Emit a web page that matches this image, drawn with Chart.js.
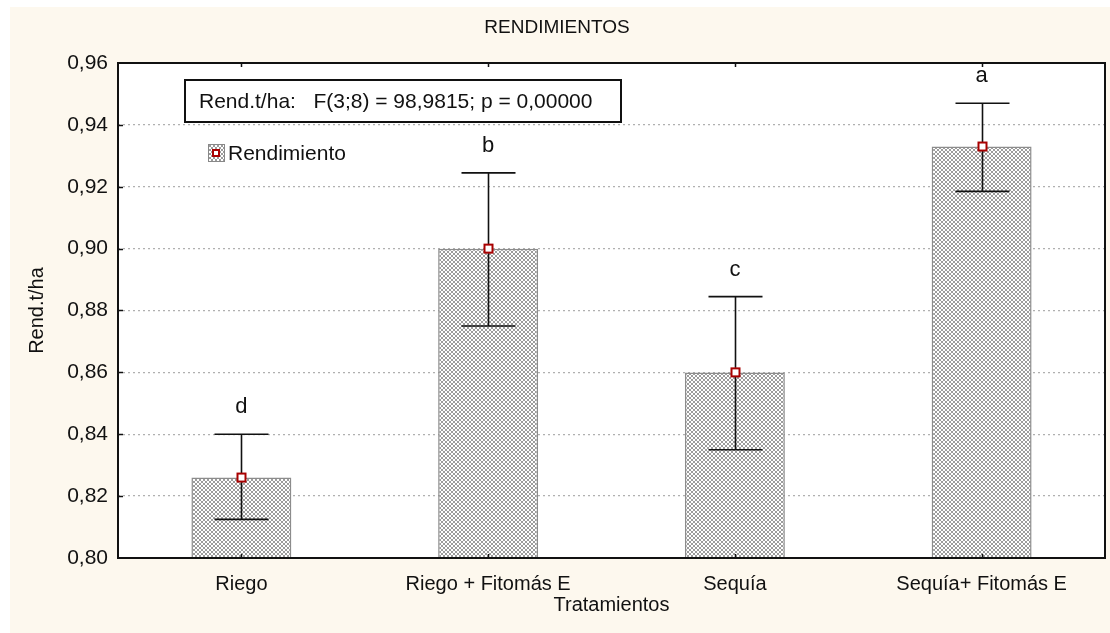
<!DOCTYPE html>
<html>
<head>
<meta charset="utf-8">
<script src="https://cdn.jsdelivr.net/npm/chart.js@4/dist/chart.umd.min.js"></script>
<style>
  html, body { margin: 0; padding: 0; background: #fff; }
  #wrap { width: 1110px; height: 633px; }
</style>
</head>
<body>
<div id="wrap"><canvas id="rendChart" width="1110" height="633"></canvas></div>
<script>
// datos
var categories = ["Riego", "Riego + Fitomás E", "Sequía", "Sequía+ Fitomás E"];
var means = [0.826, 0.900, 0.860, 0.933];
var upper = [0.840, 0.9245, 0.8845, 0.947];
var lower = [0.8125, 0.875, 0.835, 0.9185];
var letters = ["d", "b", "c", "a"];
var yMin = 0.80, yMax = 0.96, yStep = 0.02;

var FONT = "'Liberation Sans', Arial, sans-serif";
var CREAM = "#fdf8ee";

// trama cuadriculada de las barras (X de 4x4)
function makePattern() {
    var c = document.createElement("canvas");
    c.width = 4; c.height = 4;
    var p = c.getContext("2d");
    p.fillStyle = "#ffffff";
    p.fillRect(0, 0, 4, 4);
    p.fillStyle = "#9c9c9c";
    for (var i = 0; i < 4; i++) {
        p.fillRect(i, i, 1, 1);
        p.fillRect(3 - i, i, 1, 1);
    }
    return document.getElementById("rendChart").getContext("2d").createPattern(c, "repeat");
}
var barPattern = makePattern();

var backgroundPlugin = {
    id: "fondo",
    beforeDraw: function (chart) {
        var ctx = chart.ctx, a = chart.chartArea;
        ctx.save();
        ctx.fillStyle = "#fff";
        ctx.fillRect(0, 0, chart.width, chart.height);
        ctx.fillStyle = CREAM;
        ctx.fillRect(10, 7, chart.width - 10, chart.height - 7);
        ctx.fillStyle = "#fff";
        ctx.fillRect(a.left, a.top, a.right - a.left, a.bottom - a.top);
        // titulo
        ctx.fillStyle = "#111";
        ctx.font = "19px " + FONT;
        ctx.textAlign = "center";
        ctx.textBaseline = "middle";
        ctx.fillText("RENDIMIENTOS", 557, 28);
        ctx.restore();
    }
};

var extrasPlugin = {
    id: "extras",
    afterDatasetsDraw: function (chart) {
        var ctx = chart.ctx, a = chart.chartArea;
        var x = chart.scales.x, y = chart.scales.y;
        ctx.save();
        // barras de error
        ctx.strokeStyle = "#111";
        ctx.lineWidth = 1.6;
        for (var i = 0; i < categories.length; i++) {
            var cx = Math.round(x.getPixelForValue(i)) + 0.5;
            var yu = y.getPixelForValue(upper[i]);
            var yl = y.getPixelForValue(lower[i]);
            ctx.beginPath();
            ctx.moveTo(cx, yu); ctx.lineTo(cx, yl);
            ctx.moveTo(cx - 27, yu); ctx.lineTo(cx + 27, yu);
            ctx.moveTo(cx - 27, yl); ctx.lineTo(cx + 27, yl);
            ctx.stroke();
        }
        // marcadores de media
        for (var j = 0; j < categories.length; j++) {
            var mx = Math.round(x.getPixelForValue(j)) + 0.5;
            var my = y.getPixelForValue(means[j]);
            ctx.fillStyle = "#fff";
            ctx.fillRect(mx - 4.5, my - 4.5, 9, 9);
            ctx.strokeStyle = "#a80000";
            ctx.lineWidth = 2;
            ctx.strokeRect(mx - 4, my - 4, 8, 8);
        }
        // letras de significacion
        ctx.fillStyle = "#111";
        ctx.font = "22px " + FONT;
        ctx.textAlign = "center";
        ctx.textBaseline = "middle";
        for (var k = 0; k < categories.length; k++) {
            ctx.fillText(letters[k], x.getPixelForValue(k), y.getPixelForValue(upper[k]) - 27);
        }
        // marco y marcas
        ctx.strokeStyle = "#111";
        ctx.lineWidth = 2;
        ctx.strokeRect(a.left, a.top, a.right - a.left, a.bottom - a.top);
        ctx.lineWidth = 1.5;
        ctx.beginPath();
        for (var v = yMin + yStep; v < yMax - 0.001; v += yStep) {
            var ty = Math.round(y.getPixelForValue(v)) + 0.5;
            ctx.moveTo(a.left, ty); ctx.lineTo(a.left + 5, ty);
        }
        for (var m = 0; m < categories.length; m++) {
            var tx = Math.round(x.getPixelForValue(m)) + 0.5;
            ctx.moveTo(tx, a.bottom); ctx.lineTo(tx, a.bottom - 4);
            ctx.moveTo(tx, a.top); ctx.lineTo(tx, a.top + 4);
        }
        ctx.stroke();
        // recuadro estadistico
        ctx.fillStyle = "#fff";
        ctx.fillRect(185, 80, 436, 42);
        ctx.lineWidth = 2;
        ctx.strokeRect(185, 80, 436, 42);
        ctx.fillStyle = "#111";
        ctx.font = "21px " + FONT;
        ctx.textAlign = "left";
        ctx.fillText("Rend.t/ha:   F(3;8) = 98,9815; p = 0,00000", 199, 102);
        // leyenda
        ctx.fillStyle = barPattern;
        ctx.fillRect(208, 144, 17, 18);
        ctx.strokeStyle = "#888";
        ctx.lineWidth = 1;
        ctx.strokeRect(208.5, 144.5, 16, 17);
        ctx.fillStyle = "#fff";
        ctx.fillRect(212, 149, 8, 8);
        ctx.strokeStyle = "#a80000";
        ctx.lineWidth = 2;
        ctx.strokeRect(213, 150, 6, 6);
        ctx.fillStyle = "#111";
        ctx.fillText("Rendimiento", 228, 154);
        ctx.restore();
    }
};

var ctxR = document.getElementById("rendChart").getContext("2d");
var rendChart = new Chart(ctxR, {
    type: "bar",
    data: {
        labels: categories,
        datasets: [{
            label: "Rendimiento",
            data: means,
            backgroundColor: barPattern,
            borderColor: "#8c8c8c",
            borderWidth: 1.5,
            barPercentage: 0.405,
            categoryPercentage: 1.0
        }]
    },
    options: {
        responsive: false,
        animation: false,
        devicePixelRatio: 1,
        layout: { padding: { left: 0, top: 63, right: 5, bottom: 0 } },
        plugins: {
            legend: { display: false },
            tooltip: { enabled: false }
        },
        scales: {
            x: {
                grid: { display: false, drawTicks: false },
                border: { display: false },
                ticks: { color: "#111", font: { family: FONT, size: 20 }, padding: 14, maxRotation: 0 },
                title: { display: true, text: "Tratamientos", color: "#111", font: { family: FONT, size: 20 }, padding: { top: 0, bottom: 16 } },
                afterFit: function (s) { s.height = 75; }
            },
            y: {
                min: yMin,
                max: yMax,
                grid: {
                    color: function (c) {
                        var v = c.tick ? c.tick.value : 0;
                        return (Math.abs(v - yMin) < 1e-6 || Math.abs(v - yMax) < 1e-6) ? "rgba(0,0,0,0)" : "#b0b0b0";
                    },
                    drawTicks: false,
                    lineWidth: 1.3
                },
                border: { display: false, dash: [2, 3] },
                ticks: {
                    stepSize: yStep,
                    color: "#111",
                    font: { family: FONT, size: 21 },
                    padding: 10,
                    callback: function (v) { return v.toFixed(2).replace(".", ","); }
                },
                title: { display: true, text: "Rend.t/ha", color: "#111", font: { family: FONT, size: 20 }, padding: { top: 25, bottom: 0 } },
                afterFit: function (s) { s.width = 118; }
            }
        }
    },
    plugins: [backgroundPlugin, extrasPlugin]
});
</script>
</body>
</html>
